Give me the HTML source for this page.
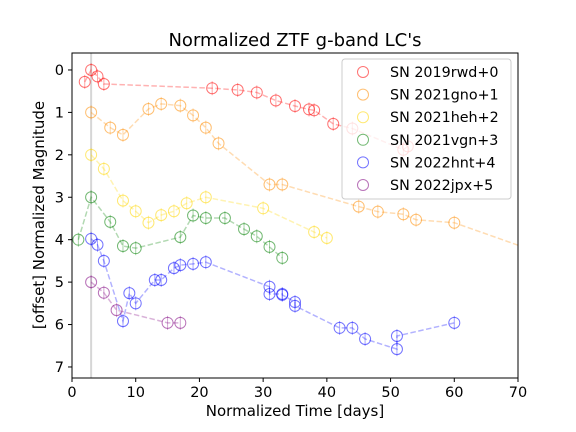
<!DOCTYPE html>
<html><head><meta charset="utf-8"><style>
body{margin:0;background:#fff;}
svg{display:block;font-family:"DejaVu Sans","Liberation Sans",sans-serif;}
</style></head><body>
<svg id="chart" width="576" height="432" viewBox="0 0 576 432" xmlns="http://www.w3.org/2000/svg">
<text x="295" y="46" font-size="18" text-anchor="middle">Normalized ZTF g-band LC's</text>
<g id="plot"></g>
<text x="295" y="416" font-size="15" text-anchor="middle">Normalized Time [days]</text>
<text transform="translate(44,215) rotate(-90)" font-size="15" text-anchor="middle">[offset] Normalized Magnitude</text>
</svg>
<script>
const xTicks=[0,10,20,30,40,50,60,70];
const yTicks=[0,1,2,3,4,5,6,7];
const seriesNames=["SN 2019rwd+0","SN 2021gno+1","SN 2021heh+2","SN 2021vgn+3","SN 2022hnt+4","SN 2022jpx+5"];
const seriesColors=["#ff0000","#ff8c00","#ffd700","#008000","#0000ff","#800080"];
const t0=[2,3,4,5,22,26,29,32,35,37.2,38,41,44,52,52.7];
const m0=[0.28,0,0.15,0.33,0.43,0.47,0.53,0.72,0.85,0.93,0.95,1.27,1.38,1.88,1.8];
const t1=[3,6,8,12,14,17,19,21,23,31,33,45,48,52,54,60,70];
const m1=[1.0,1.36,1.53,0.92,0.8,0.84,1.07,1.36,1.73,2.7,2.7,3.22,3.34,3.4,3.53,3.6,4.13];
const t2=[3,5,8,10,12,14,16,18,21,30,38,40];
const m2=[2.0,2.33,3.08,3.33,3.6,3.42,3.33,3.14,3.0,3.26,3.82,3.96];
const t3=[1,3,6,8,10,17,19,21,24,27,29,31,33];
const m3=[4.0,3.0,3.58,4.15,4.2,3.94,3.43,3.49,3.49,3.75,3.92,4.17,4.43];
const t4=[3,4,5,8,9,10,13,14,16,17,19,21,31,31,33,33,35,35,42,44,46,51,51,60];
const m4=[3.98,4.12,4.5,5.92,5.26,5.5,4.95,4.95,4.67,4.6,4.57,4.53,5.11,5.28,5.28,5.3,5.47,5.56,6.08,6.08,6.34,6.58,6.27,5.96];
const t5=[3,5,7,15,17];
const m5=[5.0,5.25,5.66,5.96,5.96];
const times=[t0,t1,t2,t3,t4,t5];
const mags=[m0,m1,m2,m3,m4,m5];
const markerCounts=[15,16,12,13,24,5];

const L=72,R=518,T=53,B=378,xMin=0,xMax=70,yMin=-0.4,yMax=7.26;
const sx=v=>L+(v-xMin)/(xMax-xMin)*(R-L);
const sy=v=>T+(v-yMin)/(yMax-yMin)*(B-T);
const NS="http://www.w3.org/2000/svg";
const plot=document.getElementById('plot');
function mk(tag,attrs,parent){const e=document.createElementNS(NS,tag);for(const k in attrs)e.setAttribute(k,attrs[k]);(parent||plot).appendChild(e);return e;}

let vl=mk('line',{x1:sx(3),x2:sx(3),y1:T,y2:B,stroke:'#bbb','stroke-width':2,opacity:0.6});



times.forEach((ts,i)=>{
  const ms=mags[i];
  const c=seriesColors[i];
  const pts=ts.map((t,j)=>sx(t)+','+sy(ms[j])).join(' ');
  const pl=mk('polyline',{points:pts,fill:'none',stroke:c,'stroke-width':1.5,'stroke-dasharray':'5.5,2.5',opacity:0.3});
  
  
  const n=Math.min(markerCounts[i],ts.length);
  for(let j=0;j<n;j++){
    const x=sx(ts[j]),y=sy(ms[j]);
    const eb=mk('line',{x1:x,x2:x,y1:y-7,y2:y+7,stroke:c,'stroke-width':1,opacity:0.35});
    
    
    const ci=mk('circle',{cx:x,cy:y,r:5.5,fill:'none',stroke:c,'stroke-width':1,opacity:0.55});
    
    
  }
});

let fr=mk('rect',{x:L,y:T,width:R-L,height:B-T,fill:'none',stroke:'#000','stroke-width':1});


xTicks.forEach(v=>{
  const x=sx(v);
  const tk=mk('line',{x1:x,x2:x,y1:B,y2:B+4,stroke:'#000'});
  
  
  const tl=mk('text',{x:x,y:B+19,'font-size':14.5,'text-anchor':'middle'});
  tl.textContent=v;
  
  
});
yTicks.forEach(v=>{
  const y=sy(v);
  const tk=mk('line',{x1:L-4,x2:L,y1:y,y2:y,stroke:'#000'});
  
  
  const tl=mk('text',{x:L-8,y:y+5,'font-size':14.5,'text-anchor':'end'});
  tl.textContent=v;
  
  
});

const lg=mk('g',{});


mk('rect',{x:342,y:59,width:169,height:140,rx:3,fill:'#fff','fill-opacity':0.8,stroke:'#ccc'},lg);
seriesNames.forEach((nm,i)=>{
  const y=72+i*22.6;
  const c=mk('circle',{cx:363,cy:y,r:5.5,fill:'none',stroke:seriesColors[i],opacity:0.55},lg);
  
  
  const t=mk('text',{x:390,y:y+5,'font-size':14.3},lg);
  t.textContent=nm;
  
  
});
</script>
</body></html>
